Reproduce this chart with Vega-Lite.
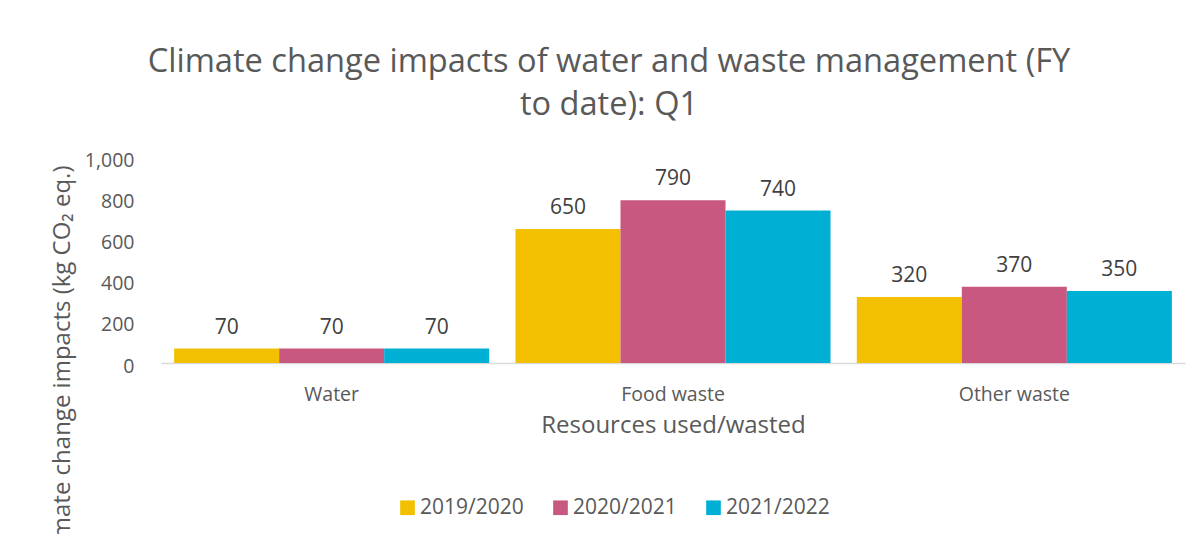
{
  "$schema": "https://vega.github.io/schema/vega-lite/v6.json",
  "width": 1024,
  "height": 206,
  "autosize": {"type": "none"},
  "padding": {"left": 161, "top": 157, "right": 17, "bottom": 171},
  "background": "white",
  "config": {"font": "Open Sans", "view": {"stroke": null}},
  "title": {
    "text": ["Climate change impacts of water and waste management (FY", "to date): Q1"],
    "fontSize": 32.6,
    "color": "#595959",
    "font": "Open Sans",
    "fontWeight": "normal",
    "lineHeight": 43,
    "anchor": "middle",
    "dx": -64,
    "offset": 28
  },
  "data": {
    "values": [
      {"resource": "Water", "year": "2019/2020", "value": 70},
      {"resource": "Water", "year": "2020/2021", "value": 70},
      {"resource": "Water", "year": "2021/2022", "value": 70},
      {"resource": "Food waste", "year": "2019/2020", "value": 650},
      {"resource": "Food waste", "year": "2020/2021", "value": 790},
      {"resource": "Food waste", "year": "2021/2022", "value": 740},
      {"resource": "Other waste", "year": "2019/2020", "value": 320},
      {"resource": "Other waste", "year": "2020/2021", "value": 370},
      {"resource": "Other waste", "year": "2021/2022", "value": 350}
    ]
  },
  "encoding": {
    "x": {
      "field": "resource",
      "type": "nominal",
      "sort": ["Water", "Food waste", "Other waste"],
      "scale": {"paddingInner": 0.077, "paddingOuter": 0.0385},
      "axis": {
        "labelAngle": 0,
        "labelFontSize": 19.5,
        "labelColor": "#595959",
        "labelPadding": 22,
        "ticks": false,
        "domainColor": "#d9d9d9",
        "domainWidth": 1.5,
        "title": "Resources used/wasted",
        "titleFontSize": 24,
        "titleFontWeight": "normal",
        "titleColor": "#595959",
        "titlePadding": 10
      }
    },
    "xOffset": {
      "field": "year",
      "type": "nominal",
      "sort": ["2019/2020", "2020/2021", "2021/2022"],
      "scale": {"paddingInner": 0, "paddingOuter": 0}
    },
    "y": {
      "field": "value",
      "type": "quantitative",
      "scale": {"domain": [0, 1000]},
      "axis": {
        "values": [0, 200, 400, 600, 800, 1000],
        "format": ",.0f",
        "labelFontSize": 19.5,
        "labelColor": "#595959",
        "labelPadding": 27,
        "labelOffset": 3,
        "ticks": false,
        "domain": false,
        "grid": false,
        "title": "Climate change impacts (kg CO₂ eq.)",
        "titleFontSize": 24,
        "titleFontWeight": "normal",
        "titleColor": "#595959",
        "titleAngle": -90,
        "titleX": -92,
        "titleY": 8,
        "titleAlign": "right",
        "titleBaseline": "alphabetic"
      }
    }
  },
  "layer": [
    {
      "mark": {"type": "bar"},
      "encoding": {
        "color": {
          "field": "year",
          "type": "nominal",
          "sort": ["2019/2020", "2020/2021", "2021/2022"],
          "scale": {"range": ["#F2C000", "#C8587F", "#00B0D4"]},
          "legend": {
            "orient": "none",
            "legendX": 236,
            "legendY": 340,
            "direction": "horizontal",
            "title": null,
            "symbolType": "square",
            "symbolSize": 215,
            "symbolStrokeWidth": 0,
            "symbolOpacity": 1,
            "labelFontSize": 21,
            "labelColor": "#595959",
            "labelOffset": 2,
            "columnPadding": 26
          }
        }
      }
    },
    {
      "mark": {"type": "text", "dy": -15, "baseline": "alphabetic", "fontSize": 21, "color": "#404040"},
      "encoding": {
        "text": {"field": "value", "type": "quantitative"}
      }
    }
  ]
}
